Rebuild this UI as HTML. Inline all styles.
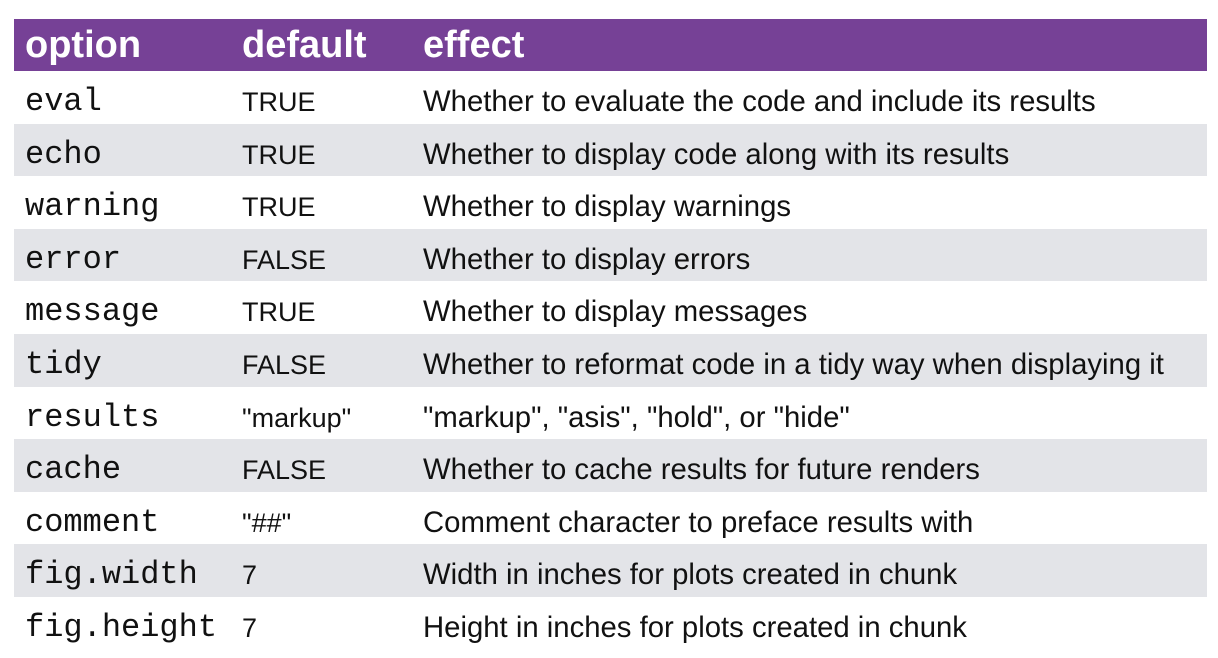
<!DOCTYPE html>
<html><head><style>
body{margin:0;width:1218px;height:658px;background:#fff;position:relative;overflow:hidden;font-family:"Liberation Sans",sans-serif;}
.hd{position:absolute;left:14px;top:19px;width:1193px;height:52px;background:#764196;color:#fff;font-weight:bold;font-size:38px;}
.hd span{position:absolute;top:5px;}
.r{position:absolute;left:14px;width:1193px;height:52.6px;}
.g{background:#e3e4e8;}
.r span{position:absolute;top:16px;white-space:nowrap;color:#111;}
.o{left:11px;font-family:"Liberation Mono",monospace;font-size:32px;top:12px!important;}
.d{left:228px;font-size:27px;}
.e{left:409px;font-size:29.3px;top:14px!important;}
</style></head><body>
<div class="hd"><span style="left:11px">option</span><span style="left:228px">default</span><span style="left:409px">effect</span></div>
<div class="r" style="top:71px"><span class="o">eval</span><span class="d">TRUE</span><span class="e">Whether to evaluate the code and include its results</span></div>
<div class="r g" style="top:123.6px"><span class="o">echo</span><span class="d">TRUE</span><span class="e">Whether to display code along with its results</span></div>
<div class="r" style="top:176.2px"><span class="o">warning</span><span class="d">TRUE</span><span class="e">Whether to display warnings</span></div>
<div class="r g" style="top:228.8px"><span class="o">error</span><span class="d">FALSE</span><span class="e">Whether to display errors</span></div>
<div class="r" style="top:281.4px"><span class="o">message</span><span class="d">TRUE</span><span class="e">Whether to display messages</span></div>
<div class="r g" style="top:334px"><span class="o">tidy</span><span class="d">FALSE</span><span class="e">Whether to reformat code in a tidy way when displaying it</span></div>
<div class="r" style="top:386.6px"><span class="o">results</span><span class="d">"markup"</span><span class="e">"markup", "asis", "hold", or "hide"</span></div>
<div class="r g" style="top:439.2px"><span class="o">cache</span><span class="d">FALSE</span><span class="e">Whether to cache results for future renders</span></div>
<div class="r" style="top:491.8px"><span class="o">comment</span><span class="d">"##"</span><span class="e">Comment character to preface results with</span></div>
<div class="r g" style="top:544.4px"><span class="o">fig.width</span><span class="d">7</span><span class="e">Width in inches for plots created in chunk</span></div>
<div class="r" style="top:597px"><span class="o">fig.height</span><span class="d">7</span><span class="e">Height in inches for plots created in chunk</span></div>
</body></html>
